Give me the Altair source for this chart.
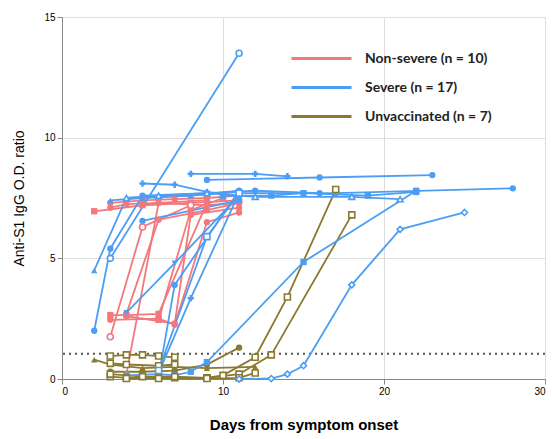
import altair as alt
import pandas as pd

# ---- data ----
groups = ["Non-severe", "Severe", "Unvaccinated"]
legend_labels = ["Non-severe (n = 10)", "Severe (n = 17)", "Unvaccinated (n = 7)"]
cutoff = 1.05

ns_days = [[2, 5, 8, 11], [3, 5, 7, 9, 11], [3, 4, 6, 9, 11], [3, 4, 6, 9],
           [3, 6, 7, 9, 11], [3, 5, 8], [4, 6, 9], [4, 6, 9, 11], [6, 8, 10], [4, 7, 8, 11]]
ns_vals = [[6.95, 7.2, 7.3, 7.4], [7.3, 7.4, 7.45, 7.5, 7.6], [7.1, 7.25, 7.3, 7.2, 7.3],
           [2.65, 2.65, 2.7, 7.3], [2.45, 2.5, 2.25, 6.5, 6.9], [1.75, 6.3, 7.2],
           [0.2, 7.3, 7.4], [2.7, 6.6, 7.0, 7.3], [2.45, 7.0, 7.5], [2.6, 2.3, 6.8, 7.1]]

sv_days = [[3, 11], [2, 4, 8, 11], [2, 3, 5, 9, 12, 16], [8, 12, 14], [9, 16, 23],
           [5, 7, 9, 11], [4, 6, 7, 8, 9, 15, 22], [11, 13, 14, 15, 18, 21, 25],
           [11, 17, 28], [6, 9, 11], [4, 7, 11], [6, 7, 11], [6, 8, 11], [5, 11],
           [4, 6, 9, 12, 18, 21], [10, 13, 15, 19, 22], [3, 5, 8, 11]]
sv_vals = [[5.0, 13.5], [4.5, 7.5, 7.6, 7.8], [2.0, 5.4, 7.6, 7.7, 7.8, 7.7],
           [8.5, 8.5, 8.4], [8.25, 8.35, 8.45], [8.1, 8.05, 7.75, 7.6],
           [0.15, 0.2, 0.15, 0.3, 0.7, 4.85, 7.8], [0.0, 0.02, 0.2, 0.55, 3.9, 6.2, 6.9],
           [7.7, 7.7, 7.9], [0.35, 5.9, 7.7], [2.75, 4.8, 7.6], [0.1, 3.9, 7.8],
           [0.25, 3.35, 7.7], [6.55, 7.4], [7.5, 7.6, 7.7, 7.55, 7.55, 7.45],
           [7.6, 7.6, 7.7, 7.6, 7.75], [7.4, 7.5, 7.6, 7.75]]

uv_days = [[2, 3, 5, 7, 9, 12], [3, 4, 5, 6, 7], [3, 5, 7, 9, 11],
           [3, 4, 6, 7, 9, 10, 12, 14, 17], [3, 5, 7, 9, 11, 13, 18], [3, 4, 6, 7],
           [4, 6, 9, 11, 12]]
uv_vals = [[0.8, 0.6, 0.45, 0.5, 0.45, 0.5], [0.95, 1.0, 1.0, 0.95, 0.9],
           [0.3, 0.3, 0.35, 0.6, 1.3], [0.1, 0.05, 0.05, 0.05, 0.05, 0.15, 0.9, 3.4, 7.85],
           [0.2, 0.1, 0.1, 0.05, 0.2, 1.0, 6.8], [0.65, 0.6, 0.55, 0.6],
           [0.02, 0.02, 0.02, 0.05, 0.25]]

# ---- marker styles per subject (style, kept apart from the values) ----
ns_marks = [("square", True), ("circle", True), ("circle", True), ("square", True),
            ("circle", True), ("circle", False), ("circle", True), ("circle", True),
            ("square", True), ("circle", True)]
sv_marks = [("circle", False), ("triangle-up", True), ("circle", True), ("cross", True),
            ("circle", True), ("cross", True), ("square", True), ("diamond", False),
            ("circle", True), ("square", False), ("triangle-down", True), ("circle", True),
            ("cross", True), ("circle", True), ("triangle-up", False), ("square", True),
            ("triangle-up", True)]
uv_marks = [("triangle-up", True), ("square", False), ("circle", True), ("square", False),
            ("square", False), ("square", False), ("square", False)]

colors = ["#F4777B", "#4C9EF5", "#8A7A2F"]

rows = []
order = [(0, ns_days, ns_vals, ns_marks), (2, uv_days, uv_vals, uv_marks),
         (1, sv_days, sv_vals, sv_marks)]
for gi, dd, vv, mm in order:
    for si, (d, v, m) in enumerate(zip(dd, vv, mm)):
        for x, y in zip(d, v):
            rows.append({"group": groups[gi], "label": legend_labels[gi],
                         "id": f"{gi}-{si}", "day": x, "value": y,
                         "shape": m[0], "filled": m[1]})
df = pd.DataFrame(rows)

xenc = alt.X("day:Q", scale=alt.Scale(domain=[0, 30], nice=False),
             axis=alt.Axis(values=[0, 10, 20, 30], title="Days from symptom onset",
                           titleFontWeight="bold", titleY=38, titleFontSize=15))
yenc = alt.Y("value:Q", scale=alt.Scale(domain=[0, 15], nice=False),
             axis=alt.Axis(values=[0, 5, 10, 15], title="Anti-S1 IgG O.D. ratio",
                           titleFontWeight="normal", titleX=-36, titleFontSize=14))
color_scale = alt.Scale(domain=legend_labels, range=colors)

base = alt.Chart(df)
lines = base.mark_line(strokeWidth=1.8).encode(
    x=xenc, y=yenc,
    color=alt.Color("label:N", scale=color_scale, sort=legend_labels,
                    legend=alt.Legend(title=None, orient="none", legendX=248, legendY=30,
                                      symbolType="M-3,0L3,0", symbolSize=400,
                                      symbolStrokeWidth=3, labelFontSize=14,
                                      labelFontWeight="bold", labelFont="Lato",
                                      labelColor="#222", rowPadding=10, labelOffset=32,
                                      labelLimit=300)),
    detail="id:N",
)
pts_filled = base.transform_filter("datum.filled").mark_point(
    filled=True, size=40, opacity=1).encode(
    x="day:Q", y="value:Q",
    shape=alt.Shape("shape:N", scale=None),
    color=alt.Color("label:N", scale=color_scale, legend=None),
)
pts_open = base.transform_filter("!datum.filled").mark_point(
    filled=False, fill="white", size=36, strokeWidth=1.6, opacity=1).encode(
    x="day:Q", y="value:Q",
    shape=alt.Shape("shape:N", scale=None),
    color=alt.Color("label:N", scale=color_scale, legend=None),
)
rule = alt.Chart(pd.DataFrame({"c": [cutoff]})).mark_rule(
    strokeDash=[2, 4], color="#555", strokeWidth=2).encode(y="c:Q")

chart = alt.layer(rule, lines, pts_filled, pts_open).properties(
    width=483, height=362,
    autosize=alt.AutoSizeParams(type="none"),
    padding={"left": 62, "top": 17, "right": 7, "bottom": 60},
).configure_view(stroke=None).configure_axis(
    grid=False, domainColor="black", domainWidth=2, tickColor="black", tickWidth=2,
    tickSize=6, labelFont="Liberation Sans", labelFontWeight="bold", labelFontSize=13,
    labelColor="black", titleFont="Lato", titleColor="#222",
).configure(background="white")

chart.save("out.html", embed_options={"renderer": "svg", "actions": False})
